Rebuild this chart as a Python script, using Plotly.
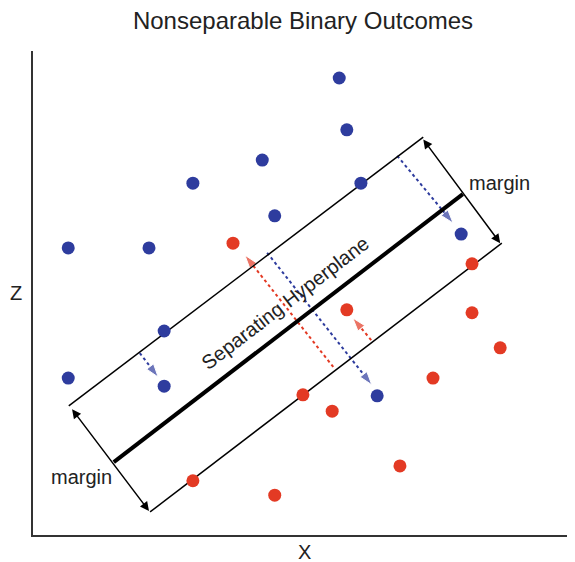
import plotly.graph_objects as go

BLUE = "#2e3c9e"
RED = "#e33a24"
FONT = "Liberation Sans, Arial, sans-serif"

# observations
blue_x = [5.65, 5.79, 4.23, 2.95, 6.05, 4.46, 0.65, 2.14, 7.90, 2.42, 0.65, 2.42, 6.35]
blue_y = [9.52, 8.44, 7.81, 7.33, 7.33, 6.65, 5.98, 5.98, 6.27, 4.25, 3.27, 3.10, 2.90]
red_x = [3.69, 8.10, 5.79, 8.10, 8.62, 7.38, 4.98, 5.52, 6.77, 2.95, 4.46]
red_y = [6.08, 5.65, 4.69, 4.63, 3.90, 3.27, 2.92, 2.58, 1.44, 1.13, 0.83]

# hyperplane and margin boundaries (start, end)
hyperplane_x = [1.49, 7.93]
hyperplane_y = [1.52, 7.10]
upper_x = [0.66, 7.20]
upper_y = [2.69, 8.29]
lower_x = [2.16, 8.65]
lower_y = [0.48, 6.08]

# margin width arrows (tail x, tail y, head x, head y)
margin_arrows = [(0.70, 2.65, 2.14, 0.50), (7.18, 8.27, 8.62, 6.08)]
margin_labels = [(0.90, 1.21), (8.60, 7.33)]

# slack arrows: (x0, y0, x1, y1, colour)
slack_arrows = [
    (6.72, 7.90, 7.75, 6.50, BLUE),
    (1.97, 3.79, 2.31, 3.29, BLUE),
    (4.32, 5.88, 6.25, 3.13, BLUE),
    (5.54, 3.50, 3.91, 5.83, RED),
    (6.24, 4.06, 5.90, 4.52, RED),
]

fig = go.Figure()

for x0, y0, x1, y1, color in slack_arrows:
    fig.add_trace(
        go.Scatter(
            x=[x0, x1],
            y=[y0, y1],
            mode="lines+markers",
            line={"color": color, "width": 2, "dash": "3px,3px"},
            marker={"symbol": "arrow", "size": [0, 14], "angleref": "previous", "color": color},
            hoverinfo="skip",
        )
    )

for xs, ys, width in [(upper_x, upper_y, 1.5), (lower_x, lower_y, 1.5), (hyperplane_x, hyperplane_y, 4)]:
    fig.add_trace(
        go.Scatter(x=xs, y=ys, mode="lines", line={"color": "black", "width": width}, hoverinfo="skip")
    )

fig.add_trace(go.Scatter(x=blue_x, y=blue_y, mode="markers", marker={"color": BLUE, "size": 13}))
fig.add_trace(go.Scatter(x=red_x, y=red_y, mode="markers", marker={"color": RED, "size": 13}))

for ax_, ay_, x_, y_ in margin_arrows:
    fig.add_annotation(
        x=x_, y=y_, ax=ax_, ay=ay_, xref="x", yref="y", axref="x", ayref="y",
        text="", showarrow=True, arrowhead=2, arrowside="end+start",
        arrowsize=1.2, arrowwidth=1.5, arrowcolor="black",
    )

for lx, ly in margin_labels:
    fig.add_annotation(x=lx, y=ly, text="margin", showarrow=False, font={"size": 20, "color": "#222"})

fig.add_annotation(
    x=4.65, y=4.83, text="Separating Hyperplane", showarrow=False,
    textangle=-37.5, font={"size": 20, "color": "#222"},
)

fig.add_annotation(x=0, y=0.5, xref="paper", yref="paper", xshift=-25, text="Z",
                   showarrow=False, font={"size": 20, "color": "#222"})
fig.add_annotation(x=0.5, y=0, xref="paper", yref="paper", yshift=-30, text="X",
                   showarrow=False, font={"size": 20, "color": "#222"})

axis_style = dict(
    showline=True, linecolor="#333", linewidth=2, showgrid=False, zeroline=False,
    showticklabels=False, ticks="", mirror=False,
)
fig.update_xaxes(range=[0, 10], **axis_style)
fig.update_yaxes(range=[0, 10.083], **axis_style)

# the page adds an 8px body margin, so the figure is shifted up/left by that much
fig.update_layout(
    width=575,
    height=562,
    margin={"l": 25, "r": 8, "t": 43, "b": 35},
    showlegend=False,
    plot_bgcolor="white",
    paper_bgcolor="white",
    font={"family": FONT, "color": "#222"},
    title={"text": "Nonseparable Binary Outcomes", "x": 295 / 575, "xanchor": "center",
           "y": 1 - 13 / 562, "yanchor": "middle", "font": {"size": 24, "color": "#222"}},
)

fig.write_html("out.html")
